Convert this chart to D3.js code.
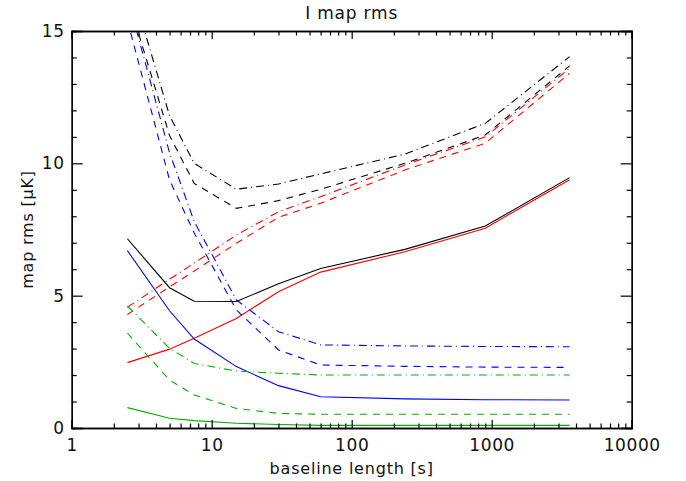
<!DOCTYPE html>
<html><head><meta charset="utf-8">
<script src="https://cdn.jsdelivr.net/npm/d3@7"></script>
<style>
body{margin:0;background:#fff;}
text{font-family:"DejaVu Sans","Liberation Sans",sans-serif;fill:#111;}
</style></head>
<body><svg id="c" width="686" height="481"></svg>
<script>
const baselines = [2.5, 5, 7.5, 15, 30, 60, 240, 900, 3600];

const blackSolid   = [7.15, 5.30, 4.79, 4.78, 5.45, 6.03, 6.75, 7.63, 9.46];
const blackDashed  = [16.3, 11.05, 9.24, 8.30, 8.59, 9.02, 10.0, 11.07, 13.68];
const blackDashDot = [17.2, 11.8, 10.0, 9.02, 9.22, 9.60, 10.35, 11.51, 14.03];
const redSolid     = [2.47, 2.98, 3.39, 4.14, 5.15, 5.89, 6.66, 7.55, 9.38];
const redDashed    = [4.29, 5.33, 5.93, 6.98, 7.96, 8.49, 9.75, 10.76, 13.40];
const redDashDot   = [4.56, 5.62, 6.23, 7.29, 8.17, 8.74, 9.94, 11.00, 13.59];
const blueSolid    = [6.70, 4.43, 3.36, 2.32, 1.60, 1.18, 1.10, 1.07, 1.06];
const blueDashed   = [15.4, 9.37, 7.37, 4.46, 2.95, 2.38, 2.33, 2.30, 2.29];
const blueDashDot  = [16.3, 10.4, 7.80, 4.84, 3.64, 3.14, 3.10, 3.08, 3.07];
const greenSolid   = [0.77, 0.37, 0.28, 0.18, 0.13, 0.10, 0.10, 0.10, 0.10];
const greenDashed  = [3.58, 1.81, 1.25, 0.74, 0.55, 0.52, 0.52, 0.52, 0.52];
const greenDashDot = [4.61, 3.01, 2.44, 2.15, 2.07, 2.00, 2.00, 2.00, 2.00];

const xTicks = [1, 10, 100, 1000, 10000];
const yTicks = [0, 5, 10, 15];
const titleText = "I map rms";
const xTitle = "baseline length [s]";
const yTitle = "map rms [\u03bcK]";

const series = [
  {v: blackSolid, c: "#000000", d: null},
  {v: blackDashed, c: "#000000", d: "7,6"},
  {v: blackDashDot, c: "#000000", d: "8,4,1,4"},
  {v: redSolid, c: "#ff0000", d: null},
  {v: redDashed, c: "#ff0000", d: "7,6"},
  {v: redDashDot, c: "#ff0000", d: "8,4,1,4"},
  {v: blueSolid, c: "#0000ff", d: null},
  {v: blueDashed, c: "#0000ff", d: "7,6"},
  {v: blueDashDot, c: "#0000ff", d: "8,4,1,4"},
  {v: greenSolid, c: "#00b000", d: null},
  {v: greenDashed, c: "#00b000", d: "7,6"},
  {v: greenDashDot, c: "#00b000", d: "8,4,1,4"}
];

const L = 71.7, R = 631.7, T = 31, B = 428;
const svg = d3.select("#c");
const x = d3.scaleLog().domain([1, 10000]).range([L, R]);
const y = d3.scaleLinear().domain([0, 15]).range([B, T]);

svg.append("defs").append("clipPath").attr("id","clip")
  .append("rect").attr("x", L).attr("y", T).attr("width", R-L).attr("height", B-T);

const line = d3.line().x(d => x(d[0])).y(d => y(d[1]));
const g = svg.append("g").attr("clip-path","url(#clip)");
series.forEach(s => {
  g.append("path")
    .attr("d", line(baselines.map((b,i)=>[b, s.v[i]])))
    .attr("fill","none").attr("stroke", s.c).attr("stroke-width", 1.1)
    .attr("stroke-dasharray", s.d);
});

const minorX = [];
for (let e = 0; e < 4; e++) for (let k = 2; k <= 9; k++) minorX.push(k * Math.pow(10, e));
const minorY = d3.range(0, 16, 1).filter(v => v % 5 !== 0);

const axBottom = d3.axisBottom(x).tickValues(xTicks).tickSize(-8).tickPadding(11).tickFormat(d3.format("d"));
const axBottomMinor = d3.axisBottom(x).tickValues(minorX).tickSize(-4.5).tickFormat("");
const axTop = d3.axisTop(x).tickValues(xTicks).tickSize(-8).tickFormat("");
const axTopMinor = d3.axisTop(x).tickValues(minorX).tickSize(-4.5).tickFormat("");
const axLeft = d3.axisLeft(y).tickValues(yTicks).tickSize(-11).tickPadding(7).tickFormat(d3.format("d"));
const axLeftMinor = d3.axisLeft(y).tickValues(minorY).tickSize(-5).tickFormat("");
const axRight = d3.axisRight(y).tickValues(yTicks).tickSize(-11).tickFormat("");
const axRightMinor = d3.axisRight(y).tickValues(minorY).tickSize(-5).tickFormat("");

function style(sel){
  sel.selectAll(".domain").attr("stroke","#000").attr("stroke-width",1.3);
  sel.selectAll(".tick line").attr("stroke","#000").attr("stroke-width",1.2);
  sel.selectAll(".tick text").attr("font-size",17).attr("fill","#111").attr("letter-spacing","0.6px");
}
style(svg.append("g").attr("transform",`translate(0,${B})`).call(axBottom));
style(svg.append("g").attr("transform",`translate(0,${B})`).call(axBottomMinor));
style(svg.append("g").attr("transform",`translate(0,${T})`).call(axTop));
style(svg.append("g").attr("transform",`translate(0,${T})`).call(axTopMinor));
style(svg.append("g").attr("transform",`translate(${L},0)`).call(axLeft));
style(svg.append("g").attr("transform",`translate(${L},0)`).call(axLeftMinor));
style(svg.append("g").attr("transform",`translate(${R},0)`).call(axRight));
style(svg.append("g").attr("transform",`translate(${R},0)`).call(axRightMinor));

svg.append("text").attr("x", (L+R)/2).attr("y", 19).attr("text-anchor","middle")
  .attr("font-size",17).attr("letter-spacing","0.8px").text(titleText);
svg.append("text").attr("x", (L+R)/2).attr("y", 474).attr("text-anchor","middle")
  .attr("font-size",16).attr("letter-spacing","0.8px").text(xTitle);
svg.append("text").attr("transform",`translate(33,${(T+B)/2}) rotate(-90)`).attr("text-anchor","middle")
  .attr("font-size",16).attr("letter-spacing","0.8px").text(yTitle);
</script></body></html>
